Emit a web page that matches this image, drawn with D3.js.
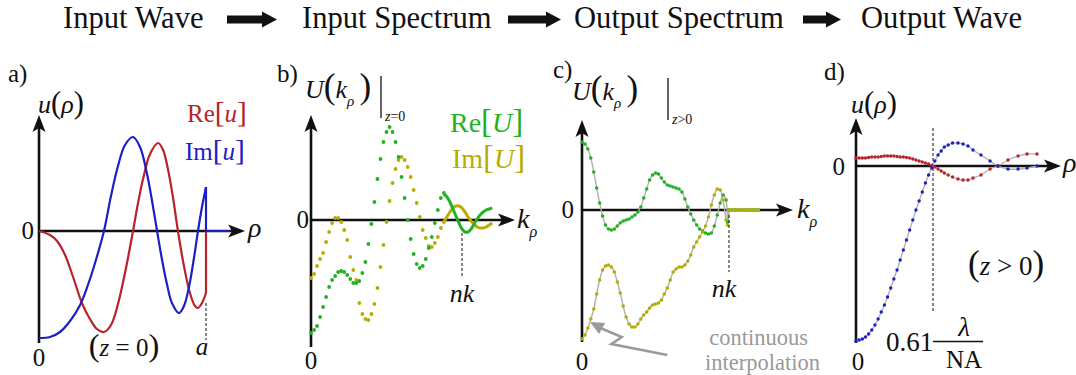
<!DOCTYPE html>
<html>
<head>
<meta charset="utf-8">
<script src="https://cdn.jsdelivr.net/npm/d3@7"></script>
<style>
  body { margin: 0; background: #fff; }
  svg text, svg tspan { font-family: "Liberation Serif", "Times New Roman", Times, serif; }
</style>
</head>
<body>
<svg id="fig" width="1076" height="375"></svg>
<script>
// ---- pipeline stage titles ----
const stages = ["Input Wave", "Input Spectrum", "Output Spectrum", "Output Wave"];

// ---- a) input aperture field u(rho), rho in units of the aperture radius a ----
const rhoARe = [0, 0.066, 0.108, 0.156, 0.204, 0.257, 0.305, 0.347, 0.389, 0.431, 0.473, 0.521, 0.563, 0.593, 0.623, 0.665, 0.713, 0.743, 0.772, 0.802, 0.832, 0.868, 0.904, 0.934, 0.952, 0.976, 1.0];
const reA = [0, -0.04, -0.10, -0.24, -0.46, -0.72, -0.88, -0.98, -1.01, -0.94, -0.73, -0.37, 0, 0.28, 0.52, 0.77, 0.88, 0.81, 0.62, 0.34, 0, -0.35, -0.62, -0.75, -0.77, -0.72, -0.62];
const rhoAIm = [0, 0.066, 0.126, 0.186, 0.246, 0.293, 0.341, 0.389, 0.431, 0.473, 0.515, 0.563, 0.605, 0.647, 0.677, 0.707, 0.737, 0.766, 0.796, 0.838, 0.868, 0.898, 0.928, 0.952, 0.976, 1.0];
const imA = [-1.07, -1.06, -1.01, -0.90, -0.74, -0.54, -0.29, 0, 0.35, 0.65, 0.86, 0.94, 0.84, 0.57, 0.30, 0, -0.29, -0.53, -0.72, -0.82, -0.75, -0.56, -0.27, 0, 0.24, 0.44];

// ---- b) input spectrum samples, k_rho in units of nk ----
const kB = [0, 0.02, 0.04, 0.06, 0.08, 0.10, 0.12, 0.14, 0.16, 0.18, 0.20, 0.22, 0.24, 0.26, 0.28, 0.30, 0.32, 0.34, 0.36, 0.38, 0.40, 0.42, 0.44, 0.46, 0.48, 0.50, 0.52, 0.54, 0.56, 0.58, 0.60, 0.62, 0.64, 0.66, 0.68, 0.70, 0.72, 0.74, 0.76, 0.78, 0.80, 0.82, 0.84, 0.86, 0.88];
const reB = [-1.13, -1.10, -1.06, -0.97, -0.87, -0.77, -0.67, -0.60, -0.56, -0.52, -0.51, -0.52, -0.55, -0.59, -0.63, -0.63, -0.61, -0.53, -0.42, -0.24, -0.04, 0.18, 0.41, 0.61, 0.78, 0.88, 0.93, 0.88, 0.78, 0.63, 0.43, 0.22, 0.00, -0.19, -0.34, -0.44, -0.48, -0.46, -0.39, -0.28, -0.17, -0.03, 0.10, 0.22, 0.27];
const imB = [-0.58, -0.54, -0.46, -0.39, -0.33, -0.22, -0.12, -0.03, 0.02, 0.02, -0.02, -0.10, -0.20, -0.37, -0.50, -0.60, -0.83, -0.94, -0.99, -1.00, -0.94, -0.84, -0.68, -0.47, -0.25, -0.02, 0.19, 0.37, 0.51, 0.60, 0.63, 0.60, 0.53, 0.43, 0.30, 0.17, 0.03, -0.10, -0.18, -0.26, -0.27, -0.23, -0.17, -0.08, -0.02];
// densely sampled band edge around nk
const kBTail = [0.88, 0.90, 0.92, 0.94, 0.96, 0.98, 1.00, 1.02, 1.04, 1.06, 1.08, 1.10, 1.12, 1.14, 1.16, 1.18, 1.20];
const reBTail = [0.26, 0.23, 0.18, 0.11, 0.04, -0.03, -0.09, -0.12, -0.12, -0.09, -0.04, 0.01, 0.05, 0.08, 0.10, 0.11, 0.12];
const imBTail = [-0.02, 0.03, 0.08, 0.12, 0.14, 0.14, 0.12, 0.08, 0.03, -0.01, -0.04, -0.07, -0.08, -0.08, -0.07, -0.05, -0.03];

// ---- c) propagated spectrum samples ----
const kC = [0, 0.02, 0.04, 0.06, 0.08, 0.10, 0.12, 0.14, 0.16, 0.18, 0.20, 0.22, 0.24, 0.26, 0.28, 0.30, 0.32, 0.34, 0.36, 0.38, 0.40, 0.42, 0.44, 0.46, 0.48, 0.50, 0.52, 0.54, 0.56, 0.58, 0.60, 0.62, 0.64, 0.66, 0.68, 0.70, 0.72, 0.74, 0.76, 0.78, 0.80, 0.82, 0.84, 0.86, 0.88, 0.90, 0.92, 0.94, 0.96, 0.98, 0.99, 1.00, 1.02, 1.04, 1.06, 1.08, 1.10, 1.12, 1.14, 1.16, 1.18, 1.20];
const reC = [0.68, 0.66, 0.61, 0.52, 0.38, 0.22, 0.07, -0.06, -0.15, -0.19, -0.20, -0.19, -0.16, -0.13, -0.11, -0.10, -0.09, -0.07, -0.05, -0.02, 0.03, 0.12, 0.21, 0.30, 0.35, 0.37, 0.36, 0.32, 0.28, 0.25, 0.24, 0.23, 0.22, 0.21, 0.18, 0.11, 0.03, -0.04, -0.10, -0.15, -0.19, -0.21, -0.23, -0.24, -0.23, -0.16, -0.05, 0.07, 0.15, 0.10, -0.12, 0, 0, 0, 0, 0, 0, 0, 0, 0, 0, 0];
const imC = [-1.29, -1.25, -1.18, -1.09, -0.99, -0.84, -0.70, -0.60, -0.56, -0.55, -0.57, -0.62, -0.72, -0.83, -0.96, -1.07, -1.14, -1.17, -1.17, -1.14, -1.09, -1.05, -1.02, -0.98, -0.95, -0.94, -0.93, -0.90, -0.84, -0.78, -0.70, -0.62, -0.59, -0.57, -0.57, -0.55, -0.51, -0.45, -0.37, -0.32, -0.27, -0.22, -0.16, -0.07, 0.05, 0.15, 0.21, 0.20, 0.10, -0.10, -0.15, 0, 0, 0, 0, 0, 0, 0, 0, 0, 0, 0];

// ---- d) output field, rho in units of lambda/NA ----
const rhoD = [0, 0.025, 0.05, 0.075, 0.1, 0.125, 0.15, 0.175, 0.2, 0.225, 0.25, 0.275, 0.3, 0.325, 0.35, 0.375, 0.4, 0.425, 0.45, 0.475, 0.5, 0.525, 0.55, 0.575, 0.6, 0.625, 0.65, 0.675, 0.7, 0.73, 0.765, 0.808, 0.848, 0.887, 0.927, 0.99, 1.062, 1.125, 1.204, 1.284, 1.355, 1.434];
const reD = [0.08, 0.08, 0.08, 0.08, 0.085, 0.09, 0.09, 0.09, 0.095, 0.10, 0.10, 0.10, 0.10, 0.095, 0.09, 0.09, 0.085, 0.08, 0.07, 0.06, 0.05, 0.04, 0.03, 0.02, 0.005, -0.01, -0.03, -0.05, -0.07, -0.09, -0.11, -0.13, -0.14, -0.14, -0.12, -0.09, -0.03, 0.00, 0.06, 0.10, 0.12, 0.12];
const imD = [-1.75, -1.74, -1.73, -1.71, -1.68, -1.64, -1.59, -1.53, -1.46, -1.39, -1.31, -1.22, -1.13, -1.04, -0.94, -0.84, -0.74, -0.64, -0.54, -0.44, -0.35, -0.26, -0.17, -0.09, -0.02, 0.05, 0.11, 0.15, 0.19, 0.21, 0.23, 0.23, 0.22, 0.20, 0.16, 0.11, 0.05, 0.00, -0.03, -0.03, -0.02, 0.00];

// ---- colours ----
const RED = "#b8232b", BLUE = "#1c20c4", GREEN = "#22b122", OLIVE = "#b7ad00", GREY = "#b0b0b0", INK = "#111";
const SERIF = "Liberation Serif, Times New Roman, Times, serif";

const svg = d3.select("#fig");

// text with italic / subscript / enlarged pieces
function label(x, y, parts, size, color, anchor, big) {
  const t = svg.append("text").attr("x", x).attr("y", y)
    .attr("font-family", SERIF)
    .attr("font-size", size).attr("fill", color || INK)
    .attr("text-anchor", anchor || "start");
  let shift = 0;
  parts.forEach(p => {
    const [str, st] = typeof p === "string" ? [p, ""] : p;
    const s = t.append("tspan").text(str).attr("font-family", SERIF);
    if (st.includes("i")) s.attr("font-style", "italic");
    const target = st.includes("s") ? size * 0.32 : 0;
    if (target !== shift) { s.attr("dy", target - shift); shift = target; }
    if (st.includes("s")) s.attr("font-size", size * 0.58);
    if (st.includes("b")) s.attr("font-size", size * (big || 1.18));
  });
  return t;
}

function arrowHead(x, y, dir) {
  const L = 17, W = 6.5, n = 4;
  const pts = dir === "up"
    ? [[x, y], [x - W, y + L], [x, y + L - n], [x + W, y + L]]
    : [[x, y], [x - L, y - W], [x - L + n, y], [x - L, y + W]];
  svg.append("path").attr("d", "M" + pts.map(p => p.join(",")).join("L") + "Z").attr("fill", INK);
}

// axis cross with arrowheads
function axes(xs, ys, xMax, yMin, yMax) {
  const x0 = xs(0), y0 = ys(0);
  svg.append("line").attr("x1", x0).attr("x2", x0).attr("y1", ys(yMin)).attr("y2", ys(yMax) + 10)
    .attr("stroke", INK).attr("stroke-width", 2.6);
  svg.append("line").attr("x1", x0).attr("x2", xs(xMax) - 10).attr("y1", y0).attr("y2", y0)
    .attr("stroke", INK).attr("stroke-width", 2.6);
  arrowHead(x0, ys(yMax), "up");
  arrowHead(xs(xMax), y0, "right");
}

function dashed(x, y1, y2) {
  svg.append("line").attr("x1", x).attr("x2", x).attr("y1", y1).attr("y2", y2)
    .attr("stroke", INK).attr("stroke-width", 1).attr("stroke-dasharray", "3,2");
}

function curve(xs, ys, X, Y, color, width, type) {
  const line = d3.line().x(i => xs(X[i])).y(i => ys(Y[i])).curve(type || d3.curveCatmullRom.alpha(0.5));
  svg.append("path").attr("d", line(d3.range(X.length))).attr("fill", "none")
    .attr("stroke", color).attr("stroke-width", width).attr("stroke-linejoin", "round");
}

function dots(xs, ys, X, Y, color, r) {
  svg.append("g").selectAll("circle").data(d3.range(X.length)).join("circle")
    .attr("cx", i => xs(X[i])).attr("cy", i => ys(Y[i])).attr("r", r).attr("fill", color);
}

// ---- title row ----
const titleX = [63, 302, 574, 861];
stages.forEach((s, i) => label(titleX[i], 28, [s], 30.6));
const arrowSpans = [[227, 277], [508, 561], [803, 841]];
arrowSpans.forEach(([a, b]) => {
  const h = 15;
  svg.append("path")
    .attr("d", `M${a},15.5 L${b - h},15.5 L${b - h},11.5 L${b},19.5 L${b - h},27.5 L${b - h},23.5 L${a},23.5 Z`)
    .attr("fill", INK);
});

// ---- panel a ----
{
  const xs = d3.scaleLinear([0, 1], [39, 206]);
  const ys = d3.scaleLinear([0, 1], [231, 131]);
  axes(xs, ys, 1.234, -1.12, 1.16);
  curve(xs, ys, rhoARe, reA, RED, 2.2);
  curve(xs, ys, rhoAIm, imA, BLUE, 2.2);
  // hard aperture edge at rho = a
  svg.append("path").attr("d", `M${xs(1)},${ys(reA[reA.length - 1])}V${ys(0)}`).attr("stroke", RED).attr("stroke-width", 2.2).attr("fill", "none");
  svg.append("path").attr("d", `M${xs(1)},${ys(imA[imA.length - 1])}V${ys(0)}H${xs(1.14)}`).attr("stroke", BLUE).attr("stroke-width", 2.2).attr("fill", "none");
  dashed(xs(1), ys(-0.72), 340);
  label(8, 82, ["a)"], 25);
  label(38, 113, [["u", "i"], ["(", "b"], ["ρ", "i"], [")", "b"]], 26);
  label(187, 122, ["Re", ["[", "b"], ["u", "i"], ["]", "b"]], 25, RED);
  label(185, 160, ["Im", ["[", "b"], ["u", "i"], ["]", "b"]], 25, BLUE);
  label(248, 237, [["ρ", "i"]], 28);
  label(34, 239, ["0"], 25, INK, "end");
  label(xs(0), 366, ["0"], 25, INK, "middle");
  label(124, 356, [["(", "b"], ["z", "i"], " = 0", [")", "b"]], 25, INK, "middle", 1.3);
  label(xs(1) - 4, 355, [["a", "i"]], 25, INK, "middle");
}

// ---- panel b ----
{
  const xs = d3.scaleLinear([0, 1], [311, 462]);
  const ys = d3.scaleLinear([0, 1], [220, 120]);
  axes(xs, ys, 1.351, -1.27, 1.05);
  dots(xs, ys, kB, imB, OLIVE, 1.9);
  dots(xs, ys, kB, reB, GREEN, 1.9);
  curve(xs, ys, kBTail, imBTail, OLIVE, 3);
  curve(xs, ys, kBTail, reBTail, GREEN, 3);
  dashed(xs(1), ys(-0.13), 277);
  label(277, 82, ["b)"], 25);
  label(305, 98, [["U", "i"], ["(", "b"], ["k", "i"], ["ρ", "is"], ["\u2009", ""], [")", "b"]], 26, INK, "start", 1.35);
  svg.append("line").attr("x1", 381).attr("x2", 381).attr("y1", 76).attr("y2", 118).attr("stroke", INK).attr("stroke-width", 1.3);
  label(385, 121, [["z", "i"], "=0"], 14);
  label(450, 132, ["Re", ["[", "b"], ["U", "i"], ["]", "b"]], 28, GREEN);
  label(452, 168, ["Im", ["[", "b"], ["U", "i"], ["]", "b"]], 28, OLIVE);
  label(517, 228, [["k", "i"], ["ρ", "is"]], 28);
  label(309, 228, ["0"], 25, INK, "end");
  label(xs(0), 369, ["0"], 25, INK, "middle");
  label(xs(1), 302, [["nk", "i"]], 26, INK, "middle");
}

// ---- panel c ----
{
  const xs = d3.scaleLinear([0, 1], [582, 729]);
  const ys = d3.scaleLinear([0, 1], [210, 110]);
  axes(xs, ys, 1.435, -1.32, 0.9);
  const n = 52; // samples below nk carry the interpolating line
  curve(xs, ys, kC.slice(0, n), reC.slice(0, n), GREY, 1.4);
  curve(xs, ys, kC.slice(0, n), imC.slice(0, n), GREY, 1.4);
  dots(xs, ys, kC, reC, GREEN, 1.8);
  dots(xs, ys, kC, imC, OLIVE, 1.8);
  dashed(xs(1), ys(-0.05), 272);
  label(553, 78, ["c)"], 25);
  label(572, 100, [["U", "i"], ["(", "b"], ["k", "i"], ["ρ", "is"], ["\u2009", ""], [")", "b"]], 26, INK, "start", 1.35);
  svg.append("line").attr("x1", 668).attr("x2", 668).attr("y1", 78).attr("y2", 120).attr("stroke", INK).attr("stroke-width", 1.3);
  label(672, 124, [["z", "i"], ">0"], 14);
  label(797, 218, [["k", "i"], ["ρ", "is"]], 28);
  label(574, 218, ["0"], 25, INK, "end");
  label(xs(0), 370, ["0"], 25, INK, "middle");
  label(xs(1) - 5, 297, [["nk", "i"]], 26, INK, "middle");
  // pointer to the interpolating line
  const tip = [xs(0.055), ys(-1.12)];
  svg.append("path")
    .attr("d", `M${tip[0] + 8},${tip[1] + 5} L${xs(0.27)},${ys(-1.27)} L${xs(0.2)},${ys(-1.34)} L${xs(0.58)},${ys(-1.45)}`)
    .attr("fill", "none").attr("stroke", "#9a9a9a").attr("stroke-width", 2.6).attr("stroke-linejoin", "miter");
  svg.append("path").attr("d", `M${tip[0]},${tip[1]} l15,1 l-6,11 Z`).attr("fill", "#9a9a9a");
  label(808, 345, ["continuous"], 22.5, "#999", "end");
  label(820, 370, ["interpolation"], 22.5, "#999", "end");
}

// ---- panel d ----
{
  const xs = d3.scaleLinear([0, 0.61], [856, 933]);
  const ys = d3.scaleLinear([0, 1], [166, 66]);
  axes(xs, ys, 1.624, -1.77, 0.48);
  dashed(xs(0.61), 128, 313);
  curve(xs, ys, rhoD, reD, GREY, 1.3);
  curve(xs, ys, rhoD, imD, GREY, 1.3);
  dots(xs, ys, rhoD, reD, RED, 1.7);
  dots(xs, ys, rhoD, imD, BLUE, 1.7);
  label(824, 80, ["d)"], 25);
  label(851, 113, [["u", "i"], ["(", "b"], ["ρ", "i"], [")", "b"]], 26);
  label(1063, 172, [["ρ", "i"]], 28);
  label(845, 175, ["0"], 25, INK, "end");
  label(xs(0) + 2, 370, ["0"], 25, INK, "middle");
  label(968, 275, [["(", "b"], ["z", "i"], " > 0", [")", "b"]], 27, INK, "start", 1.3);
  label(886, 351, ["0.61"], 27);
  label(964, 336, [["λ", "i"]], 27, INK, "middle");
  svg.append("line").attr("x1", 933).attr("x2", 983).attr("y1", 341.5).attr("y2", 341.5).attr("stroke", INK).attr("stroke-width", 1.3);
  label(964, 368, ["NA"], 25, INK, "middle");
}
</script>
</body>
</html>
